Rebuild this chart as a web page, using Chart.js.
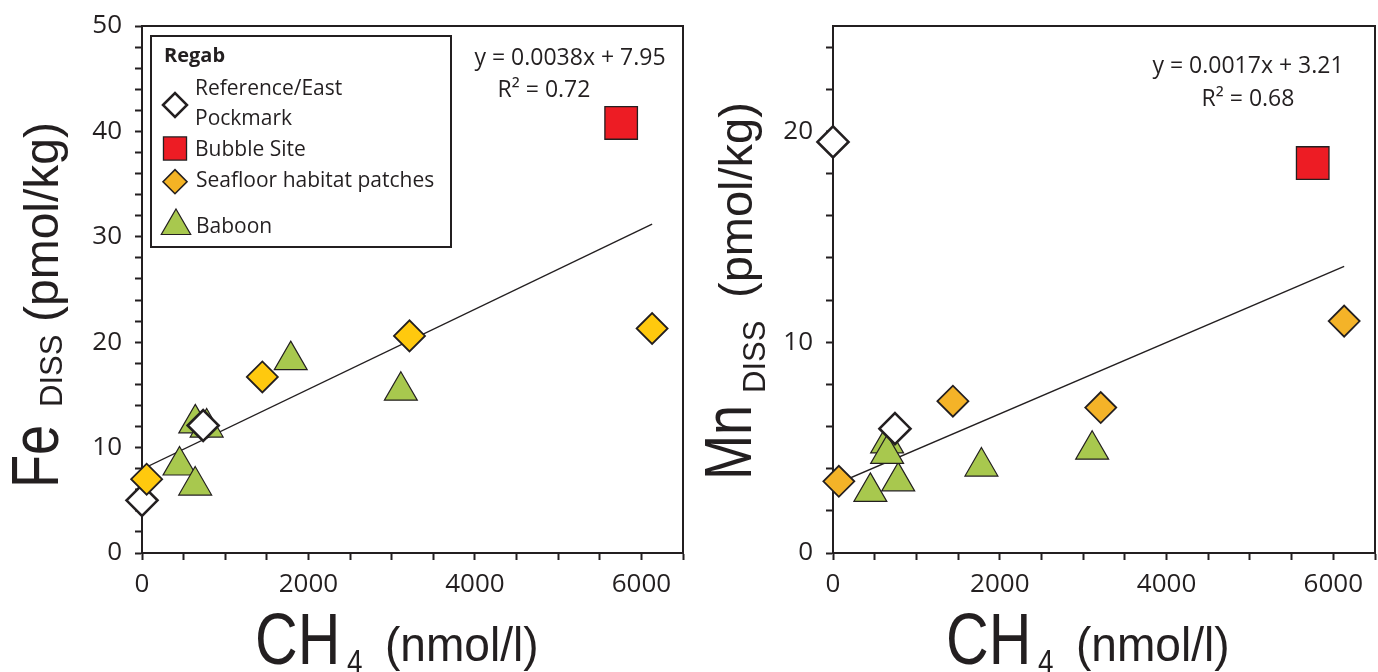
<!DOCTYPE html>
<html lang="en">
<head>
    <meta charset="UTF-8">
    <title>Fe and Mn vs CH4 - Regab</title>
    <style>
        body { margin: 0; background: #fff; }
        .panel { position: absolute; top: 0; }
        #panelFe { left: 0; }
        #panelMn { left: 690px; }
    </style>
</head>
<body>
    <div class="panel" id="panelFe"><canvas id="chartFe" width="690" height="672"></canvas></div>
    <div class="panel" id="panelMn"><canvas id="chartMn" width="688" height="672"></canvas></div>
    <script src="https://cdn.jsdelivr.net/npm/chart.js"></script>
    <script>
        // Fe panel (pmol/kg vs CH4 nmol/l)
        const feRefX = [0, 735];
        const feRefY = [5.0, 12.1];
        const feBubbleX = [5757];
        const feBubbleY = [40.8];
        const feSeafloorX = [56, 1446, 3214, 6129];
        const feSeafloorY = [7.0, 16.7, 20.6, 21.3];
        const feBaboonX = [1787, 3110, 640, 777, 451, 639];
        const feBaboonY = [18.3, 15.4, 12.3, 11.9, 8.3, 6.4];
        const feFitX = [0, 6129];
        const feFitY = [7.95, 31.2];

        // Mn panel
        const mnRefX = [0, 743];
        const mnRefY = [19.5, 5.9];
        const mnBubbleX = [5753];
        const mnBubbleY = [18.5];
        const mnSeafloorX = [70, 1438, 3211, 6130];
        const mnSeafloorY = [3.4, 7.2, 6.9, 11.0];
        const mnBaboonX = [3108, 1780, 448, 782, 649, 649];
        const mnBaboonY = [4.9, 4.1, 2.9, 3.4, 5.2, 4.7];
        const mnFitX = [0, 6130];
        const mnFitY = [3.21, 13.6];

        const xTickLabels = [0, 2000, 4000, 6000];
        const feTickLabels = [0, 10, 20, 30, 40, 50];
        const mnTickLabels = [0, 10, 20];

        const ink = "#231f20";
        const colors = {
            reference: "#ffffff",
            bubble: "#ed1c24",
            seafloorFe: "#ffc90e",
            seafloorMn: "#f4b328",
            legendSeafloor: "#f4b324",
            baboon: "#a8c84e"
        };

        function pts(xs, ys) {
            return xs.map((x, i) => ({x: x, y: ys[i]}));
        }

        function hText(ctx, text, x, y, font, sx, align) {
            ctx.save();
            ctx.translate(x, y);
            ctx.scale(sx, 1);
            ctx.font = font;
            ctx.fillStyle = ink;
            ctx.textAlign = align || "left";
            ctx.textBaseline = "alphabetic";
            ctx.fillText(text, 0, 0);
            ctx.restore();
        }

        function rotText(ctx, text, x, y, font, sx) {
            ctx.save();
            ctx.translate(x, y);
            ctx.rotate(-Math.PI / 2);
            ctx.scale(sx, 1);
            ctx.font = font;
            ctx.fillStyle = ink;
            ctx.textAlign = "left";
            ctx.textBaseline = "alphabetic";
            ctx.fillText(text, 0, 0);
            ctx.restore();
        }

        function symbol(ctx, style, radius, fill, lw, x, y) {
            ctx.save();
            ctx.fillStyle = fill;
            ctx.strokeStyle = ink;
            ctx.lineWidth = lw;
            Chart.helpers.drawPoint(ctx, {pointStyle: style, radius: radius, borderWidth: lw, rotation: 0}, x, y);
            ctx.restore();
        }

        // no extra padding from tick labels: the plot box is placed by hand
        function noPad(s) {
            s.paddingLeft = 0;
            s.paddingRight = 0;
            s.paddingTop = 0;
            s.paddingBottom = 0;
        }

        function makeChart(id, cfg) {
            const canvas = document.getElementById(id);
            const W = canvas.width, H = canvas.height;
            const tickFont = {family: "Open Sans", size: 26};
            return new Chart(canvas.getContext("2d"), {
                type: "scatter",
                data: {
                    datasets: [
                        {
                            label: "Bubble Site",
                            data: pts(cfg.bubbleX, cfg.bubbleY),
                            pointStyle: "rect",
                            pointRadius: 23,
                            pointBackgroundColor: colors.bubble,
                            pointBorderColor: ink,
                            pointBorderWidth: 1.3,
                            clip: false,
                            order: 1
                        },
                        {
                            label: "Seafloor habitat patches",
                            data: pts(cfg.seafloorX, cfg.seafloorY),
                            pointStyle: "rectRot",
                            pointRadius: 15.5,
                            pointBackgroundColor: cfg.seafloorColor,
                            pointBorderColor: ink,
                            pointBorderWidth: 1.8,
                            clip: false,
                            order: 2
                        },
                        {
                            label: "Reference/East Pockmark",
                            data: pts(cfg.refX, cfg.refY),
                            pointStyle: "rectRot",
                            pointRadius: 15.5,
                            pointBackgroundColor: colors.reference,
                            pointBorderColor: ink,
                            pointBorderWidth: 2.6,
                            clip: false,
                            order: 3
                        },
                        {
                            label: "Baboon",
                            data: pts(cfg.baboonX, cfg.baboonY),
                            pointStyle: "triangle",
                            pointRadius: 19,
                            pointBackgroundColor: colors.baboon,
                            pointBorderColor: ink,
                            pointBorderWidth: 1.2,
                            clip: false,
                            order: 4
                        },
                        {
                            label: "fit",
                            data: pts(cfg.fitX, cfg.fitY),
                            showLine: true,
                            pointRadius: 0,
                            borderColor: ink,
                            borderWidth: 1.4,
                            order: 5
                        }
                    ]
                },
                options: {
                    responsive: false,
                    animation: false,
                    events: [],
                    layout: {autoPadding: false, padding: {left: 0, top: 26, right: W - cfg.right, bottom: 0}},
                    plugins: {legend: {display: false}, tooltip: {enabled: false}},
                    scales: {
                        x: {
                            type: "linear", position: "bottom", min: 0, max: 6500,
                            ticks: {
                                stepSize: 500, autoSkip: false, maxRotation: 0, padding: 9,
                                color: ink, font: tickFont,
                                callback: v => xTickLabels.includes(v) ? String(v) : ""
                            },
                            grid: {drawOnChartArea: false, tickLength: 7, tickColor: ink, tickWidth: 2},
                            border: {color: ink, width: 2},
                            afterFit: s => { s.height = H - 553; noPad(s); }
                        },
                        y: {
                            type: "linear", position: "left", min: 0, max: cfg.yMax,
                            ticks: {
                                stepSize: 2, includeBounds: false, autoSkip: false, padding: 13,
                                color: ink, font: tickFont,
                                callback: v => cfg.yLabels.includes(v) ? String(v) : ""
                            },
                            grid: {drawOnChartArea: false, tickLength: 7, tickColor: ink, tickWidth: 2},
                            border: {color: ink, width: 2},
                            afterFit: s => { s.width = cfg.left; noPad(s); }
                        },
                        xTop: {
                            type: "linear", position: "top", min: 0, max: 6500,
                            ticks: {display: false},
                            grid: {display: false, drawTicks: false},
                            border: {color: ink, width: 2},
                            afterFit: s => { s.height = 0; noPad(s); }
                        },
                        yRight: {
                            type: "linear", position: "right", min: 0, max: cfg.yMax,
                            ticks: {display: false},
                            grid: {display: false, drawTicks: false},
                            border: {color: ink, width: 2},
                            afterFit: s => { s.width = 0; noPad(s); }
                        }
                    }
                },
                plugins: [{id: "annotations", afterDraw: chart => cfg.draw(chart.ctx)}]
            });
        }

        // Fe_DISS vs CH4
        makeChart("chartFe", {
            refX: feRefX, refY: feRefY, bubbleX: feBubbleX, bubbleY: feBubbleY,
            seafloorX: feSeafloorX, seafloorY: feSeafloorY, baboonX: feBaboonX, baboonY: feBaboonY,
            fitX: feFitX, fitY: feFitY, seafloorColor: colors.seafloorFe,
            yMax: 50, yLabels: feTickLabels, left: 142, right: 683,
            draw: function (ctx) {
                const f = '"Liberation Sans", Arial, sans-serif';
                rotText(ctx, "Fe", 58, 488, "66px " + f, 0.82);
                rotText(ctx, "DISS", 62, 407, "31px " + f, 1);
                rotText(ctx, "(pmol/kg)", 58, 322, "48px " + f, 1);
                hText(ctx, "CH", 255, 664, "72px " + f, 0.82);
                hText(ctx, "4", 347, 673, "34px " + f, 0.82);
                hText(ctx, "(nmol/l)", 385, 661, "48px " + f, 0.96);

                hText(ctx, "y = 0.0038x + 7.95", 570, 65, '23px "Open Sans"', 1, "center");
                hText(ctx, "R² = 0.72", 544, 97, '23px "Open Sans"', 1, "center");

                // legend
                ctx.save();
                ctx.strokeStyle = ink;
                ctx.lineWidth = 2;
                ctx.strokeRect(151, 36, 300, 211);
                ctx.restore();
                hText(ctx, "Regab", 164, 61.5, 'bold 20px "Open Sans"', 1);
                symbol(ctx, "rectRot", 12, colors.reference, 2.5, 175, 105);
                hText(ctx, "Reference/East", 195, 95, '21px "Open Sans"', 1);
                hText(ctx, "Pockmark", 195, 125, '21px "Open Sans"', 1);
                symbol(ctx, "rect", 16.3, colors.bubble, 1.3, 175, 148.5);
                hText(ctx, "Bubble Site", 195, 155.5, '21px "Open Sans"', 1);
                symbol(ctx, "rectRot", 12, colors.legendSeafloor, 1.6, 175, 181.7);
                hText(ctx, "Seafloor habitat patches", 196, 186.5, '21px "Open Sans"', 1);
                symbol(ctx, "triangle", 17, colors.baboon, 1.2, 176, 226);
                hText(ctx, "Baboon", 196, 232.5, '21px "Open Sans"', 1);
            }
        });

        // Mn_DISS vs CH4
        makeChart("chartMn", {
            refX: mnRefX, refY: mnRefY, bubbleX: mnBubbleX, bubbleY: mnBubbleY,
            seafloorX: mnSeafloorX, seafloorY: mnSeafloorY, baboonX: mnBaboonX, baboonY: mnBaboonY,
            fitX: mnFitX, fitY: mnFitY, seafloorColor: colors.seafloorMn,
            yMax: 25, yLabels: mnTickLabels, left: 143, right: 685,
            draw: function (ctx) {
                const f = '"Liberation Sans", Arial, sans-serif';
                rotText(ctx, "Mn", 61, 480, "66px " + f, 0.82);
                rotText(ctx, "DISS", 75, 393, "31px " + f, 1);
                rotText(ctx, "(pmol/kg)", 62, 298, "47px " + f, 1);
                hText(ctx, "CH", 256, 664, "72px " + f, 0.82);
                hText(ctx, "4", 348, 673, "34px " + f, 0.82);
                hText(ctx, "(nmol/l)", 386, 661, "48px " + f, 0.96);

                hText(ctx, "y = 0.0017x + 3.21", 558, 73, '23px "Open Sans"', 1, "center");
                hText(ctx, "R² = 0.68", 558, 106, '23px "Open Sans"', 1, "center");
            }
        });
    </script>
</body>
</html>
